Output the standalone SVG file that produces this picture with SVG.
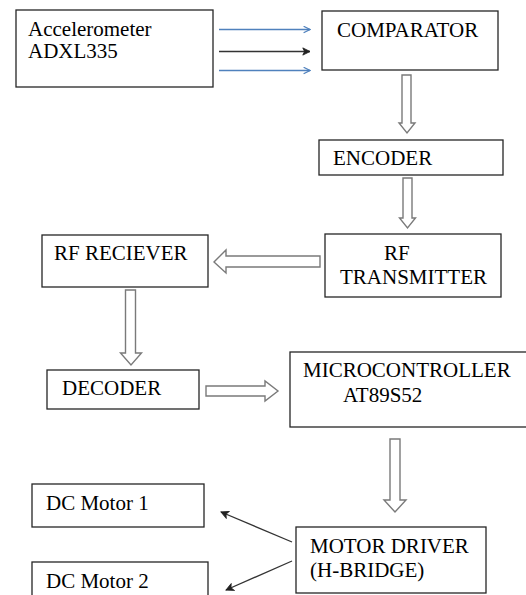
<svg xmlns="http://www.w3.org/2000/svg" width="526" height="595" viewBox="0 0 526 595">
<defs>
<marker id="ab" viewBox="0 0 10 10" refX="9" refY="5" markerWidth="8" markerHeight="8" markerUnits="userSpaceOnUse" orient="auto">
<path d="M1,1 L9,5 L1,9" fill="none" stroke="#4f81bd" stroke-width="1.6"/>
</marker>
<marker id="ak" viewBox="0 0 10 10" refX="9" refY="5" markerWidth="9" markerHeight="9" markerUnits="userSpaceOnUse" orient="auto">
<path d="M1,1 L9,5 L1,9 L3,5 Z" fill="#222" stroke="#222" stroke-width="1"/>
</marker>
</defs>
<rect width="526" height="595" fill="#fff"/>
<g id="connectors">
<g stroke-width="1.3" fill="none">
<line stroke="#4f81bd" x1="219" y1="29.5" x2="310" y2="29.5" marker-end="url(#ab)"/>
<line stroke="#333" x1="219" y1="51.5" x2="310" y2="51.5" marker-end="url(#ak)"/>
<line stroke="#4f81bd" x1="219" y1="70.5" x2="310" y2="70.5" marker-end="url(#ab)"/>
<line stroke="#333" x1="292" y1="542" x2="221" y2="512" marker-end="url(#ak)"/>
<line stroke="#333" x1="292" y1="561" x2="226" y2="590" marker-end="url(#ak)"/>
</g>
<g fill="#fff" stroke="#7a7a7a" stroke-width="1.4">
<path d="M402,75 H411 V123 H415 L407,133 L399,123 H402 Z"/>
<path d="M403,178 H412 V218 H415.5 L407.5,228 L399.5,218 H403 Z"/>
<path d="M320,256 V267 H226 V273 L214,262 L226,250 V256 Z"/>
<path d="M125.5,290 H135.5 V353 H141.5 L131,365 L120.5,353 H125.5 Z"/>
<path d="M206,386 H265 V381 L278,391 L265,401 V396 H206 Z"/>
<path d="M390,439 H400 V500 H406 L395,512 L384,500 H390 Z"/>
</g>
</g>
<g fill="#fff" stroke="#262626" stroke-width="1.3">
<g id="accelerometer">
<rect x="16" y="10" width="197" height="77"/>
<text fill="#000" stroke="none" font-family="Liberation Serif" font-size="21" x="28" y="36">Accelerometer</text>
<text fill="#000" stroke="none" font-family="Liberation Serif" font-size="21" x="28" y="58">ADXL335</text>
</g>
<g id="comparator">
<rect x="322" y="11" width="176" height="59"/>
<text fill="#000" stroke="none" font-family="Liberation Serif" font-size="21" x="337" y="37">COMPARATOR</text>
</g>
<g id="encoder">
<rect x="319" y="140" width="184" height="35"/>
<text fill="#000" stroke="none" font-family="Liberation Serif" font-size="21" x="333" y="165">ENCODER</text>
</g>
<g id="rf-transmitter">
<rect x="325" y="234" width="176" height="63"/>
<text fill="#000" stroke="none" font-family="Liberation Serif" font-size="21" x="384" y="260">RF</text>
<text fill="#000" stroke="none" font-family="Liberation Serif" font-size="21" x="340" y="284">TRANSMITTER</text>
</g>
<g id="rf-receiver">
<rect x="42" y="235" width="166" height="52"/>
<text fill="#000" stroke="none" font-family="Liberation Serif" font-size="21" x="54" y="260">RF RECIEVER</text>
</g>
<g id="decoder">
<rect x="47" y="370" width="152" height="39"/>
<text fill="#000" stroke="none" font-family="Liberation Serif" font-size="21" x="62" y="395">DECODER</text>
</g>
<g id="microcontroller">
<rect x="290" y="352" width="240" height="75"/>
<text fill="#000" stroke="none" font-family="Liberation Serif" font-size="21" x="303" y="377">MICROCONTROLLER</text>
<text fill="#000" stroke="none" font-family="Liberation Serif" font-size="21" x="343" y="402">AT89S52</text>
</g>
<g id="dc-motor-1">
<rect x="32" y="484" width="172" height="43"/>
<text fill="#000" stroke="none" font-family="Liberation Serif" font-size="21" x="46" y="510">DC Motor 1</text>
</g>
<g id="motor-driver">
<rect x="296" y="527" width="190" height="66"/>
<text fill="#000" stroke="none" font-family="Liberation Serif" font-size="21" x="310" y="553">MOTOR DRIVER</text>
<text fill="#000" stroke="none" font-family="Liberation Serif" font-size="21" x="310" y="577">(H-BRIDGE)</text>
</g>
<g id="dc-motor-2">
<rect x="32" y="562" width="176" height="45"/>
<text fill="#000" stroke="none" font-family="Liberation Serif" font-size="21" x="46" y="588">DC Motor 2</text>
</g>
</g>
</svg>
